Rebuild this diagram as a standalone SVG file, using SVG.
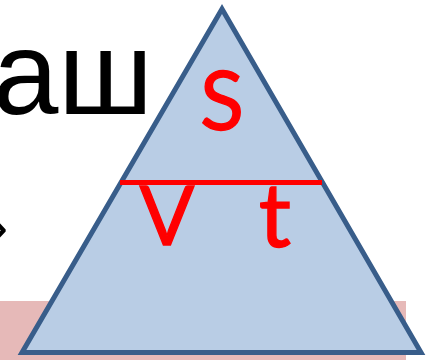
<svg xmlns="http://www.w3.org/2000/svg" width="435" height="360" viewBox="0 0 435 360">
<style>
.bg{font-family:"Liberation Sans",Arial,sans-serif;fill:#000}
.lbl{font-family:Lato,"Open Sans",sans-serif;fill:#ff0000;stroke:#ff0000;stroke-width:1.3}
</style>
<rect width="435" height="360" fill="#ffffff"/>
<g id="background">
<text class="bg" x="153" y="114" font-size="118" text-anchor="end">аш</text>
<text class="bg" x="8" y="246" font-size="60" text-anchor="end">»</text>
<rect x="0" y="301" width="406" height="59" fill="#e6b9b8"/>
</g>
<g id="triangle">
<polygon points="222,9 22,352.5 421,352.5" fill="#b9cde5" stroke="#385d8a" stroke-width="5" stroke-linejoin="miter"/>
</g>
<g id="labels">
<text class="lbl" x="222" y="130" font-size="81" text-anchor="middle">S</text>
<text class="lbl" x="167" y="245" font-size="81" text-anchor="middle">V</text>
<text class="lbl" x="275" y="247" font-size="90" text-anchor="middle">t</text>
</g>
<g id="connectors">
<line x1="120" y1="182.5" x2="322" y2="182.5" stroke="#ff0000" stroke-width="5"/>
</g>
</svg>
